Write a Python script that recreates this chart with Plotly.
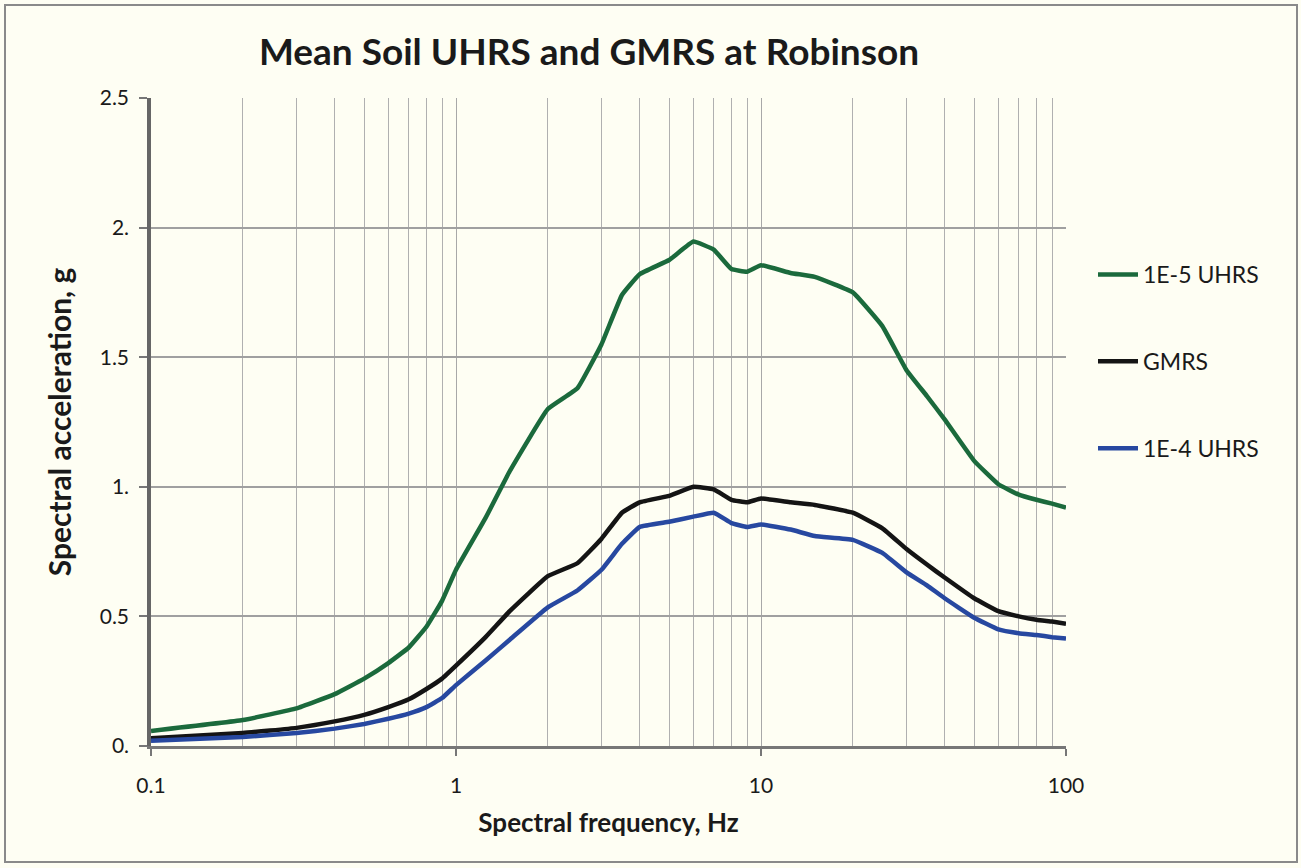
import plotly.graph_objects as go

freq = [0.1, 0.2, 0.3, 0.4, 0.5, 0.6, 0.7, 0.8, 0.9, 1.0, 1.25, 1.5, 2.0, 2.5, 3.0, 3.5, 4.0,
        5.0, 6.0, 7.0, 8.0, 9.0, 10.0, 12.5, 15.0, 20.0, 25.0, 30.0, 35.0, 40.0, 50.0,
        60.0, 70.0, 80.0, 90.0, 100.0]

uhrs_1e5 = [0.058, 0.10, 0.145, 0.20, 0.26, 0.32, 0.38, 0.46, 0.56, 0.68, 0.88, 1.06, 1.30, 1.38,
            1.55, 1.74, 1.82, 1.875, 1.946, 1.915, 1.84, 1.83, 1.855, 1.825, 1.81, 1.75,
            1.62, 1.45, 1.35, 1.26, 1.10, 1.01, 0.97, 0.95, 0.935, 0.92]

gmrs = [0.03, 0.05, 0.07, 0.095, 0.12, 0.15, 0.18, 0.22, 0.26, 0.31, 0.42, 0.52, 0.655, 0.705,
        0.80, 0.90, 0.94, 0.965, 1.00, 0.99, 0.95, 0.94, 0.955, 0.94, 0.93, 0.90,
        0.84, 0.76, 0.70, 0.65, 0.57, 0.52, 0.50, 0.487, 0.48, 0.472]

uhrs_1e4 = [0.02, 0.035, 0.05, 0.067, 0.085, 0.105, 0.125, 0.15, 0.185, 0.235, 0.33, 0.41, 0.535, 0.60,
            0.68, 0.78, 0.845, 0.865, 0.885, 0.90, 0.86, 0.845, 0.855, 0.835, 0.81, 0.795,
            0.745, 0.67, 0.62, 0.57, 0.495, 0.45, 0.435, 0.428, 0.42, 0.415]

series = [
    ("1E-5 UHRS", uhrs_1e5, "#1b6a3c"),
    ("GMRS", gmrs, "#141414"),
    ("1E-4 UHRS", uhrs_1e4, "#2748a0"),
]

y_ticks = [0, 0.5, 1.0, 1.5, 2.0, 2.5]
y_ticktext = ["0.", "0.5", "1.", "1.5", "2.", "2.5"]
x_ticks = [0.1, 1, 10, 100]
x_ticktext = ["0.1", "1", "10", "100"]
x_minor = [m * d for d in (0.1, 1, 10) for m in range(2, 10)]

FONT = "Lato"
TXT = "#1a1a1a"
fig = go.Figure()
for i, (name, vals, color) in enumerate(series):
    fig.add_trace(go.Scatter(x=freq, y=vals, mode="lines", name=name,
                             line=dict(color=color, width=4.5, shape="spline", smoothing=0.3),
                             legendgroup=f"g{i}"))

bg = "#fefef3"
fig.update_layout(
    width=1301, height=868,
    paper_bgcolor=bg, plot_bgcolor=bg,
    margin=dict(l=151, r=235, t=98, b=122),
    title=dict(text="<b>Mean Soil UHRS and GMRS at Robinson</b>", x=589/1301, xanchor="center",
               y=1-52/868, yanchor="middle",
               font=dict(family=FONT, size=37, color=TXT)),
    font=dict(family=FONT, color=TXT),
    showlegend=True,
    legend=dict(x=(1093-151)/915, xanchor="left", y=(746-253)/648, yanchor="top",
                font=dict(family=FONT, size=23, color=TXT),
                tracegroupgap=54, bgcolor="rgba(0,0,0,0)", itemwidth=40),
    xaxis=dict(type="log", range=[-1, 2], tickvals=x_ticks, ticktext=x_ticktext,
               tickfont=dict(size=21, family=FONT, color=TXT),
               ticks="outside", ticklen=7, tickcolor="#777", tickwidth=1.5,
               ticklabelstandoff=12,
               showgrid=True, gridcolor="#a8a8a8", gridwidth=1.2,
               minor=dict(tickvals=x_minor, showgrid=True, gridcolor="#b0b0b0", gridwidth=1.2, ticks=""),
               showline=True, linecolor="#777", linewidth=2.5,
               title=dict(text="<b>Spectral frequency, Hz</b>", font=dict(family=FONT, size=26, color=TXT),
                          standoff=18),
               zeroline=False),
    yaxis=dict(range=[0, 2.5], tickvals=y_ticks, ticktext=y_ticktext,
               tickfont=dict(size=21, family=FONT, color=TXT),
               ticks="outside", ticklen=8, tickcolor="#777", tickwidth=1.5,
               ticklabelstandoff=6,
               showgrid=True, gridcolor="#a0a0a0", gridwidth=1.5,
               showline=True, linecolor="#666", linewidth=3.5, mirror=False,
               title=dict(text="<b>Spectral acceleration, g</b>", font=dict(family=FONT, size=30, color=TXT),
                          standoff=20),
               zeroline=False),
)

# outer chart border
fig.add_shape(type="rect", xref="paper", yref="paper",
              x0=(5-151)/915, x1=(1297-151)/915, y0=(746-862)/648, y1=(746-5)/648,
              line=dict(color="#8a8a8a", width=2), fillcolor="rgba(0,0,0,0)", layer="below")

fig.write_html("out.html", config={"displayModeBar": False},
               post_script="document.body.style.margin='0';")
